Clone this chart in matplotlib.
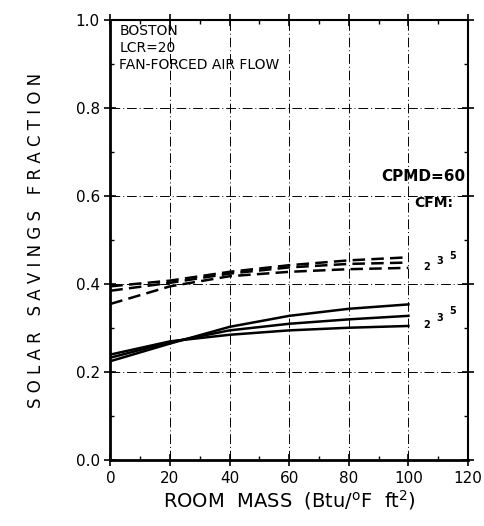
import numpy as np
import matplotlib
matplotlib.use('Agg')
import matplotlib.pyplot as plt
from matplotlib.ticker import MultipleLocator

# room mass (Btu/F ft2)
mass = [0, 20, 40, 60, 80, 100]

# dashed family
dashed_cfm2 = [0.355, 0.395, 0.418, 0.428, 0.434, 0.437]
dashed_cfm3 = [0.385, 0.403, 0.424, 0.438, 0.446, 0.449]
dashed_cfm5 = [0.395, 0.408, 0.428, 0.443, 0.454, 0.461]

# solid family
solid_cfm2 = [0.240, 0.270, 0.285, 0.295, 0.301, 0.305]
solid_cfm3 = [0.233, 0.268, 0.295, 0.310, 0.320, 0.328]
solid_cfm5 = [0.225, 0.265, 0.303, 0.328, 0.344, 0.354]

cfm_labels = ['2', '3', '5']

fig = plt.figure(figsize=(4.84, 5.26), dpi=100)
ax = fig.add_axes([0.228, 0.125, 0.739, 0.837])

for ys in [dashed_cfm2, dashed_cfm3, dashed_cfm5]:
    ax.plot(mass, ys, color='black', lw=1.8, ls=(0, (5, 2.5)), zorder=3)
for ys in [solid_cfm2, solid_cfm3, solid_cfm5]:
    ax.plot(mass, ys, color='black', lw=1.8, zorder=3)

# curve labels
for i, lab in enumerate(cfm_labels):
    ax.text(106 + 4.5 * i, dashed_cfm2[-1] + 0.003 + 0.012 * i, lab, fontsize=7, fontweight='bold', ha='center', va='center')
    ax.text(106 + 4.5 * i, solid_cfm2[-1] + 0.003 + 0.015 * i, lab, fontsize=7, fontweight='bold', ha='center', va='center')

ax.text(119, 0.645, 'CPMD=60', fontsize=11, fontweight='bold', ha='right', va='center')
ax.text(102, 0.585, 'CFM:', fontsize=10, fontweight='bold', ha='left', va='center')

ax.text(3, 0.99, 'BOSTON\nLCR=20\nFAN-FORCED AIR FLOW', fontsize=10, ha='left', va='top', linespacing=1.25)

ax.set_xlim(0, 120)
ax.set_ylim(0, 1.0)
ax.xaxis.set_major_locator(MultipleLocator(20))
ax.xaxis.set_minor_locator(MultipleLocator(10))
ax.yaxis.set_major_locator(MultipleLocator(0.2))
ax.yaxis.set_minor_locator(MultipleLocator(0.1))
ax.yaxis.set_major_formatter(matplotlib.ticker.FormatStrFormatter('%.1f'))
ax.tick_params(which='major', direction='inout', length=8, width=1.2, labelsize=11, top=True, right=True)
ax.tick_params(which='minor', direction='in', length=3, width=1, top=True, right=True)

ax.grid(True, which='major', color='black', lw=0.7, ls=(0, (10, 3, 1, 3)))
for s in ['left', 'bottom']:
    ax.spines[s].set_linewidth(2)
for s in ['top', 'right']:
    ax.spines[s].set_linewidth(1.5)

ax.set_xlabel('ROOM  MASS  (Btu/$^{\\rm o}$F  ft$^2$)', fontsize=14, labelpad=2)
ax.set_ylabel('S O L A R   S A V I N G S   F R A C T I O N', fontsize=12, labelpad=22)

fig.savefig('out.png', dpi=100)
